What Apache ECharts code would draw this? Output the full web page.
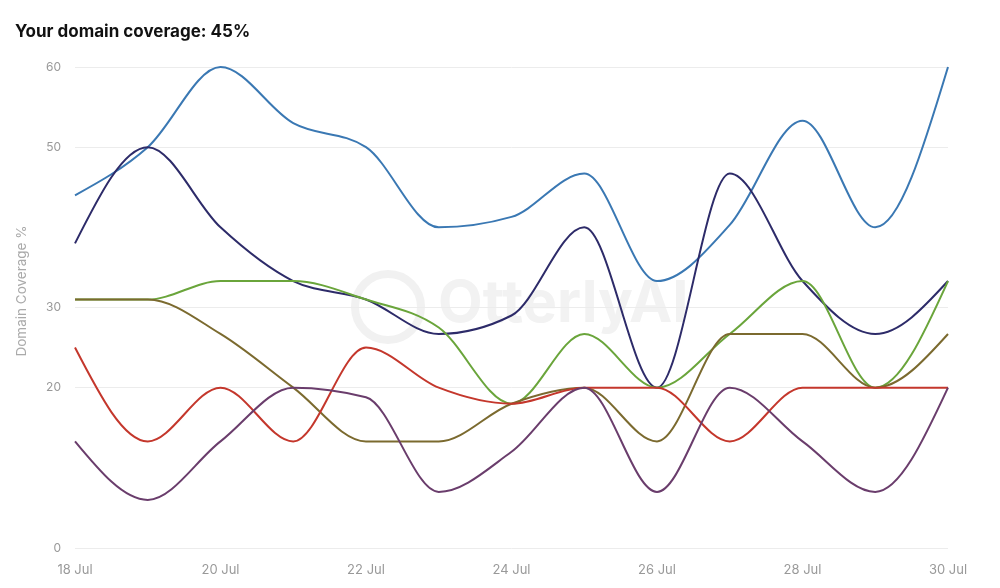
<!DOCTYPE html>
<html>
<head>
<meta charset="utf-8">
<script src="https://cdn.jsdelivr.net/npm/echarts@6/dist/echarts.min.js"></script>
<style>
html,body{margin:0;padding:0;background:#fff;}
#chart{width:1000px;height:588px;}
</style>
</head>
<body>
<div id="chart"></div>
<script>
var categories = ['18 Jul','19 Jul','20 Jul','21 Jul','22 Jul','23 Jul','24 Jul','25 Jul','26 Jul','27 Jul','28 Jul','29 Jul','30 Jul'];
var yTicks = [0, 20, 30, 50, 60];
var yAxisTitle = 'Domain Coverage %';
var seriesBlue   = [44, 50, 60, 53, 50, 40, 41.3, 46.7, 33.3, 40.3, 53.3, 40, 60];
var seriesNavy   = [38, 50, 40, 33.3, 31, 26.7, 29, 40, 20, 46.7, 33.3, 26.7, 33.3];
var seriesGreen  = [31, 31, 33.3, 33.3, 31, 27.5, 18, 26.7, 20, 26.7, 33.3, 20, 33.3];
var seriesBrown  = [31, 31, 26.7, 20, 13.3, 13.3, 18, 20, 13.3, 26.7, 26.7, 20, 26.7];
var seriesRed    = [25, 13.3, 20, 13.3, 25, 20, 18, 20, 20, 13.3, 20, 20, 20];
var seriesPurple = [13.3, 6, 13.3, 20, 18.8, 7, 12, 20, 7, 20, 13.3, 7, 20];

var colors = ['#3a78b3', '#2d2b69', '#6aa53b', '#7b6a2f', '#c4372c', '#6a3d6c'];
var allSeries = [seriesBlue, seriesNavy, seriesGreen, seriesBrown, seriesRed, seriesPurple];

function sgn(x) { return x < 0 ? -1 : 1; }
// monotone-x cubic path through pixel points
function monotonePath(pts) {
  var n = pts.length;
  var t = new Array(n);
  for (var i = 1; i < n - 1; i++) {
    var h0 = pts[i][0] - pts[i - 1][0], h1 = pts[i + 1][0] - pts[i][0];
    var s0 = (pts[i][1] - pts[i - 1][1]) / h0, s1 = (pts[i + 1][1] - pts[i][1]) / h1;
    var p = (s0 * h1 + s1 * h0) / (h0 + h1);
    t[i] = (sgn(s0) + sgn(s1)) * Math.min(Math.abs(s0), Math.abs(s1), 0.5 * Math.abs(p)) || 0;
  }
  var hA = pts[1][0] - pts[0][0];
  t[0] = (3 * (pts[1][1] - pts[0][1]) / hA - t[1]) / 2;
  var hB = pts[n - 1][0] - pts[n - 2][0];
  t[n - 1] = (3 * (pts[n - 1][1] - pts[n - 2][1]) / hB - t[n - 2]) / 2;
  var d = 'M' + pts[0][0] + ' ' + pts[0][1];
  for (var j = 0; j < n - 1; j++) {
    var dx = (pts[j + 1][0] - pts[j][0]) / 3;
    d += ' C' + (pts[j][0] + dx) + ' ' + (pts[j][1] + dx * t[j]) + ' ' +
         (pts[j + 1][0] - dx) + ' ' + (pts[j + 1][1] - dx * t[j + 1]) + ' ' +
         pts[j + 1][0] + ' ' + pts[j + 1][1];
  }
  return d;
}

var chart = echarts.init(document.getElementById('chart'), null, {renderer: 'canvas'});

var series = allSeries.map(function (d, i) {
  return {
    type: 'custom',
    data: d.map(function (v, k) { return [k, v]; }),
    encode: {x: 0, y: 1},
    z: 10 + i,
    silent: true,
    renderItem: function (params, api) {
      if (params.dataIndex !== 0) return null;
      var pts = d.map(function (v, k) { return api.coord([k, v]); });
      return {
        type: 'path',
        shape: {pathData: monotonePath(pts)},
        style: {fill: 'none', stroke: colors[i], lineWidth: 2, lineJoin: 'round'}
      };
    }
  };
});
series.unshift({
  type: 'line',
  data: [],
  silent: true,
  z: 1,
  markLine: {
    silent: true,
    z: 1,
    symbol: 'none',
    label: {show: false},
    lineStyle: {color: '#ececec', width: 1, type: 'solid'},
    data: yTicks.map(function (v) { return {yAxis: v}; })
  }
});

chart.setOption({
  animation: false,
  backgroundColor: '#fff',
  title: {
    text: 'Your domain coverage: 45%',
    left: 10,
    top: 18,
    textStyle: {fontFamily: 'Inter', fontSize: 17, fontWeight: 'bold', color: '#111'}
  },
  graphic: [
    {
      type: 'circle',
      shape: {cx: 388, cy: 307, r: 33},
      style: {fill: 'none', stroke: '#f1f1f1', lineWidth: 8},
      z: 0
    },
    {
      type: 'text',
      left: 438,
      top: 276,
      style: {text: 'OtterlyAI', font: 'bold 58px Inter', fill: '#f2f2f2'},
      z: 0
    },
    {
      type: 'text',
      x: 22,
      y: 291,
      rotation: Math.PI / 2,
      style: {text: yAxisTitle, font: '13.5px Inter', fill: '#aaa', align: 'center', verticalAlign: 'middle'},
      z: 5
    }
  ],
  grid: {left: 75, right: 52, top: 67, bottom: 40, containLabel: false},
  xAxis: {
    type: 'category',
    data: categories,
    boundaryGap: false,
    axisLine: {show: false},
    axisTick: {show: false},
    axisLabel: {interval: 1, color: '#999', fontSize: 13, fontFamily: 'Inter', margin: 16},
    splitLine: {show: false}
  },
  yAxis: {
    type: 'value',
    min: 0,
    max: 60,
    interval: 10,
    axisLine: {show: false},
    axisTick: {show: false},
    splitLine: {show: false},
    axisLabel: {
      color: '#999', fontSize: 12, fontFamily: 'Inter', margin: 14,
      formatter: function (v) { return yTicks.indexOf(v) >= 0 ? String(v) : ''; }
    }
  },
  series: series
});
</script>
</body>
</html>
